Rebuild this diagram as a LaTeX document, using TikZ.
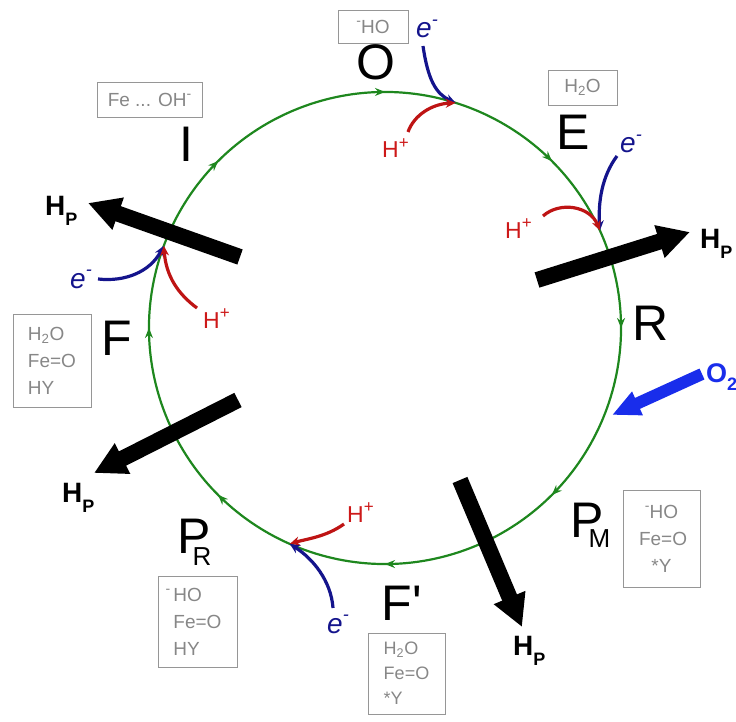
\documentclass[tikz,border=0pt]{standalone}
\usepackage{fontspec}
\setmainfont{Liberation Sans}
\newfontfamily\rawsans{Liberation Sans}[Ligatures=ResetAll]
\usetikzlibrary{arrows.meta,decorations.markings,calc}
\definecolor{cyc}{RGB}{30,135,30}
\definecolor{elec}{RGB}{20,20,140}
\definecolor{prot}{RGB}{205,25,25}
\definecolor{protc}{RGB}{190,20,20}
\definecolor{oxy}{RGB}{25,45,235}
\definecolor{boxg}{RGB}{150,150,150}
\definecolor{boxt}{RGB}{135,135,135}
\newcommand{\hplus}{H\raisebox{0.42em}{\fontsize{17}{17}\selectfont +}}
\newcommand{\eminus}{e\raisebox{0.45em}{\fontsize{18}{18}\selectfont -}}
\begin{document}
\begin{tikzpicture}[x=1pt,y=-1pt,
  state/.style={font=\fontsize{50}{50}\selectfont, anchor=base, inner sep=0pt},
  infobox/.style={draw=boxg, line width=0.9pt, text=boxt, font=\fontsize{19}{27}\selectfont, inner sep=0pt},
  pump/.style={line width=16pt, -{Triangle[length=32pt,width=32pt]}},
  pumplabel/.style={font=\bfseries\fontsize{28}{28}\selectfont, anchor=base west, inner sep=0pt},
  elabel/.style={text=elec, font=\itshape\fontsize{28}{28}\selectfont, anchor=base west, inner sep=0pt},
  hlabel/.style={text=prot, font=\fontsize{23}{23}\selectfont, anchor=base west, inner sep=0pt},
  ecurve/.style={elec, line width=3.2pt, -{Stealth[length=10pt,width=9pt]}},
  hcurve/.style={protc, line width=3.2pt, -{Stealth[length=10pt,width=9pt]}}
]
\useasboundingbox (0,0) rectangle (736,722);

% cycle
\coordinate (C) at (385,328);
\draw[cyc, line width=2.2pt, postaction={decorate},
  decoration={markings, mark=between positions 0.0625 and 1 step 0.125 with {\arrow{Stealth[length=10pt,width=8pt]}}}]
  ($(C)+(-22.5:236)$) arc[start angle=-22.5, end angle=337.5, radius=236];

% junctions
\coordinate (Jt) at ($(C)+(287.4:236)$);
\coordinate (Jr) at ($(C)+(335.6:236)$);
\coordinate (Jl) at ($(C)+(200.4:236)$);
\coordinate (Jb) at ($(C)+(113.8:236)$);

% state letters
\node[state] (O) at (376,80) {O};
\node[state] (E) at (573,150) {E};
\node[state] (R) at (651,340) {R};
\node[state, anchor=base west] (PM) at (570,537) {P\kern-15pt\raisebox{-10pt}{\fontsize{26}{26}\selectfont M}};
\node[state] (Fp) at (402,620) {F{\rawsans '}};
\node[state, anchor=base west] (PR) at (177,553) {P\kern-18pt\raisebox{-12pt}{\fontsize{26}{26}\selectfont R}};
\node[state] (F) at (117,355) {F};
\node[state] (I) at (186,162) {I};

% info boxes
\node[infobox, minimum width=70pt, minimum height=33pt] (bO) at (373,26.5) {\raisebox{0.4em}{\fontsize{14}{14}\selectfont -}HO};
\node[infobox, minimum width=69pt, minimum height=35pt] (bE) at (582.5,87.5) {H\textsubscript{2}O};
\node[infobox, minimum width=105pt, minimum height=35pt] (bI) at (149.5,99.5) {Fe ... OH\raisebox{0.4em}{\fontsize{14}{14}\selectfont -}};
\node[infobox, minimum width=78pt, minimum height=93pt, align=left] (bF) at (52,360.5) {H\textsubscript{2}O\\Fe=O\\HY};
\node[infobox, minimum width=77pt, minimum height=97pt, align=center] (bPM) at (661.5,538.5) {\raisebox{0.4em}{\fontsize{14}{14}\selectfont -}HO\\\,Fe=O\\*Y};
\node[infobox, minimum width=79pt, minimum height=91pt, align=left] (bPR) at (197.5,621.5) {\llap{\raisebox{0.4em}{\fontsize{14}{14}\selectfont -}\,}HO\\Fe=O\\HY};
\node[infobox, minimum width=77pt, minimum height=81pt, align=left, font=\fontsize{18}{25}\selectfont] (bFp) at (406.5,673.5) {H\textsubscript{2}O\\Fe=O\\*Y};

% electron / proton labels
\node[elabel] (eT) at (416,38) {\eminus};
\node[hlabel] (hT) at (382,158) {\hplus};
\node[elabel] (eR) at (620,153) {\eminus};
\node[hlabel] (hR) at (505,238) {\hplus};
\node[elabel] (eL) at (70,288) {\eminus};
\node[hlabel] (hL) at (203,328) {\hplus};
\node[hlabel] (hB) at (347,522) {\hplus};
\node[elabel] (eB) at (327,633) {\eminus};

% curve start points
\coordinate (eTs) at (423,46);
\coordinate (hTs) at (408,132);
\coordinate (eRs) at (617,156);
\coordinate (hRs) at (543,216);
\coordinate (eLs) at (98,279);
\coordinate (hLs) at (197,308);
\coordinate (hBs) at (344,524);
\coordinate (eBs) at (333,608);

\draw[ecurve] (eTs) .. controls (428,80) and (436,94) .. (Jt);
\draw[hcurve] (hTs) .. controls (414,115) and (432,104) .. (Jt);
\draw[ecurve] (eRs) .. controls (602,176) and (598,202) .. (Jr);
\draw[hcurve] (hRs) .. controls (560,201) and (590,206) .. (Jr);
\draw[ecurve] (eLs) .. controls (125,282) and (150,272) .. (Jl);
\draw[hcurve] (hLs) .. controls (178,294) and (166,276) .. (Jl);
\draw[hcurve] (hBs) .. controls (326,537) and (306,539) .. (Jb);
\draw[ecurve] (eBs) .. controls (331,580) and (312,558) .. (Jb);

% proton pumps
\coordinate (p1s) at (240,257); \coordinate (p1e) at (88,203);
\coordinate (p2s) at (537,280); \coordinate (p2e) at (690,232);
\coordinate (p3s) at (238,400); \coordinate (p3e) at (94,473);
\coordinate (p4s) at (460,480); \coordinate (p4e) at (522,627);
\draw[pump] (p1s) -- (p1e);
\draw[pump] (p2s) -- (p2e);
\draw[pump] (p3s) -- (p3e);
\draw[pump] (p4s) -- (p4e);
\node[pumplabel] (hp1) at (45,215) {H\raisebox{-0.38em}{\fontsize{18}{18}\selectfont P}};
\node[pumplabel] (hp2) at (700,248) {H\raisebox{-0.38em}{\fontsize{18}{18}\selectfont P}};
\node[pumplabel] (hp3) at (62,502) {H\raisebox{-0.38em}{\fontsize{18}{18}\selectfont P}};
\node[pumplabel] (hp4) at (513,655) {H\raisebox{-0.38em}{\fontsize{18}{18}\selectfont P}};

% oxygen
\coordinate (o2s) at (702,374); \coordinate (o2e) at (612,415);
\draw[oxy, line width=12pt, -{Triangle[length=28pt,width=24pt]}] (o2s) -- (o2e);
\node[pumplabel, text=oxy, font=\bfseries\fontsize{27}{27}\selectfont] (O2) at (706,382) {O\raisebox{-0.3em}{\fontsize{18}{18}\selectfont 2}};
\end{tikzpicture}
\end{document}
